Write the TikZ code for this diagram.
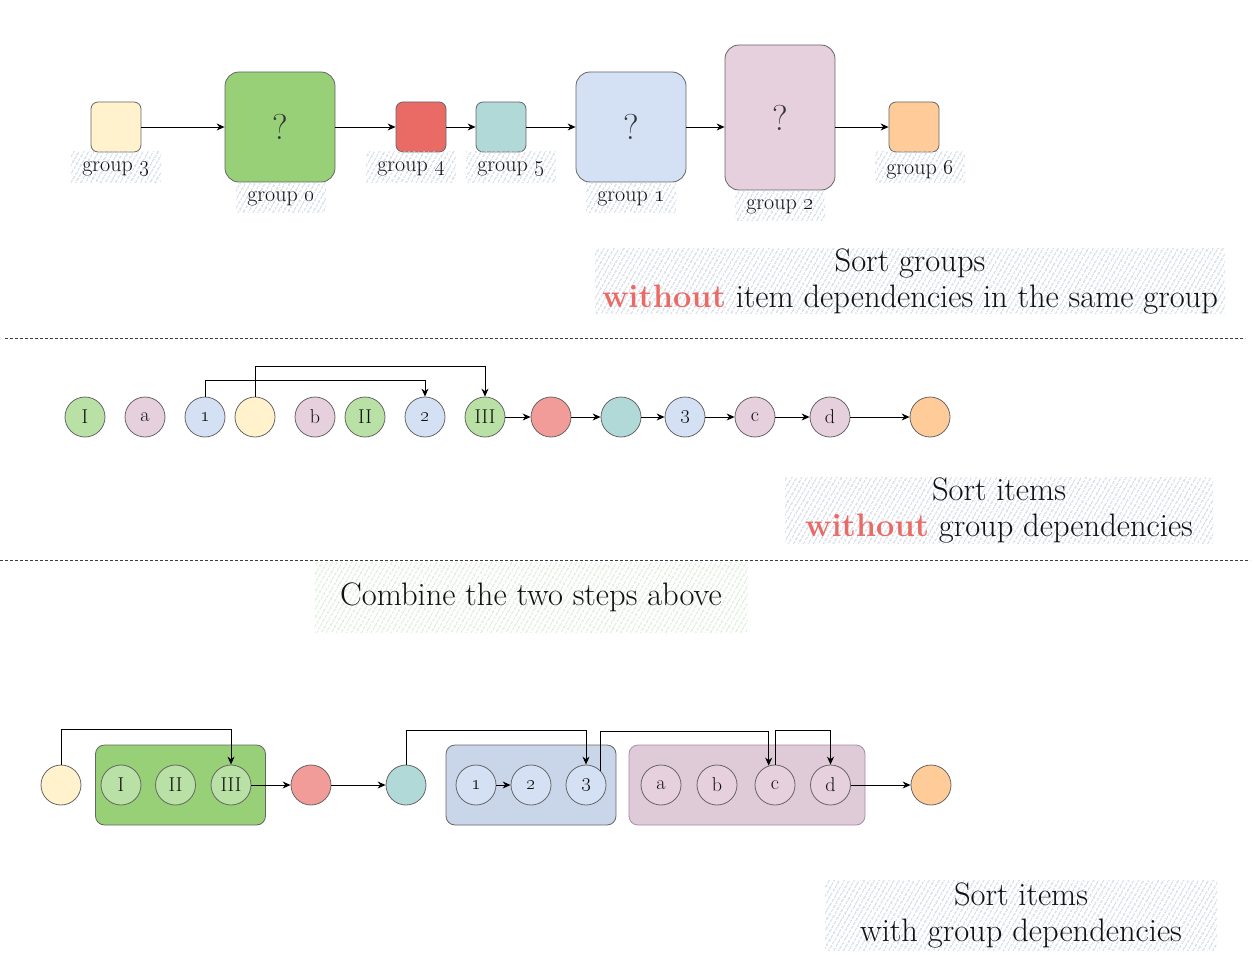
\RequirePackage{fix-cm}
\documentclass[tikz,border=0pt]{standalone}
\usepackage{tikz}
\usetikzlibrary{arrows.meta, patterns.meta, positioning, calc}

\definecolor{edge}{HTML}{666666}
\definecolor{ink}{HTML}{111111}
\definecolor{qmark}{HTML}{333333}
\definecolor{yel}{HTML}{FFF2CC}
\definecolor{grn}{HTML}{97D077}
\definecolor{lgrn}{HTML}{B9E0A5}
\definecolor{redbox}{HTML}{EA6B66}
\definecolor{lred}{HTML}{F19C99}
\definecolor{teal}{HTML}{B1D9D7}
\definecolor{blu}{HTML}{D4E1F5}
\definecolor{blulane}{HTML}{C9D6EA}
\definecolor{pur}{HTML}{E6D0DE}
\definecolor{purlane}{HTML}{DFCAD8}
\definecolor{purline}{HTML}{A68BB0}
\definecolor{org}{HTML}{FFCC99}
\definecolor{hatchblue}{HTML}{C8D3DF}
\definecolor{hatchgreen}{HTML}{D3EACD}
\definecolor{warn}{HTML}{EA6B66}
\newcommand{\depArrow}{{Stealth[length=8pt,width=7pt]}}
\newcommand{\lblfont}{\fontsize{22}{24}\selectfont}
\newcommand{\notefont}{\fontsize{32.5}{36}\selectfont}

\begin{document}
\begin{tikzpicture}[x=1pt, y=-1pt,
	grp/.style={draw=edge, line width=0.8pt, rounded corners=7pt, inner sep=0pt, text=qmark, font=\fontsize{36}{36}\selectfont},
	lane/.style={draw=edge, line width=0.8pt, rounded corners=9pt, minimum height=80pt},
	item/.style={circle, draw=edge, line width=0.8pt, minimum size=40pt, inner sep=0pt, text=ink, font=\fontsize{20}{20}\selectfont},
	hatch/.style={pattern={Lines[angle=60, distance=4pt, line width=1.1pt]}, pattern color=hatchblue, inner sep=0pt, text=ink},
	dep/.style={-\depArrow, line width=0.9pt}
]
	\useasboundingbox (0,0) rectangle (1253,971);
	
	% groups
	\coordinate (row) at (0,127);
	\node[grp, fill=yel, minimum size=50pt] (g3) at (116,127) {};
	\node[grp, fill=grn, minimum size=110pt, rounded corners=14pt] (g0) at (280,127) {?};
	\node[grp, fill=redbox, minimum size=50pt] (g4) at (421,127) {};
	\node[grp, fill=teal, minimum size=50pt] (g5) at (501,127) {};
	\node[grp, fill=blu, minimum size=110pt, rounded corners=14pt] (g1) at (631,127) {?};
	\node[grp, fill=pur, minimum width=110pt, minimum height=145pt, rounded corners=14pt] (g2) at (780,117.5) {?};
	\node[grp, fill=org, minimum size=50pt] (g6) at (914,127) {};
	
	\foreach \g/\x/\y in {3/116/167, 0/281/197, 4/411/167, 5/511/167, 1/631/197, 2/780/205, 6/920/167} {
		\node[hatch, minimum width=90pt, minimum height=30pt, text depth=0pt, font=\lblfont] (l\g) at (\x,\y) {group \oldstylenums{\g}};
	}
	
	\foreach \a/\b in {g3/g0, g0/g4, g4/g5, g5/g1, g1/g2, g2/g6} {
		\draw[dep]	(\a.east |- row) -- (\b.west |- row);
	}
	
	\node[hatch, minimum width=630pt, minimum height=62pt, align=center, font=\notefont] (note1) at (910,281)
		{Sort groups\\\textbf{\textcolor{warn}{without}} item dependencies in the same group};
	
	\draw[edge!60!black, line width=0.8pt, dash pattern=on 3pt off 2pt]	(5,338) -- (1245,338);
	
	% items
	\foreach \n/\x/\c/\t in {I/85/lgrn/I, a/145/pur/a, 1/205/blu/\oldstylenums{1}, y/255/yel/{}, b/315/pur/b, II/365/lgrn/II, 2/425/blu/\oldstylenums{2}, III/485/lgrn/III, r/551/lred/{}, t/621/teal/{}, 3/685/blu/\oldstylenums{3}, c/755/pur/c, d/830/pur/d, o/930/org/{}} {
		\node[item, fill=\c] (m\n) at (\x,417) {\t};
	}
	
	\foreach \a/\b in {III/r, r/t, t/3, 3/c, c/d, d/o} {
		\draw[dep]	(m\a) -- (m\b);
	}
	\draw[dep]	(m1.north) -- ++(0,-16) -| (m2.north);
	\draw[dep]	(my.north) -- ++(0,-30) -| (mIII.north);
	
	\node[hatch, minimum width=428pt, minimum height=65pt, align=center, font=\notefont] (note2) at (999,510.5)
		{Sort items\\\textbf{\textcolor{warn}{without}} group dependencies};
	
	\draw[edge!60!black, line width=0.8pt, dash pattern=on 3pt off 2pt]	(0,560) -- (1250,560);
	
	\node[hatch, pattern color=hatchgreen, minimum width=433pt, minimum height=70pt, font=\notefont] (note3) at (531,597)
		{Combine the two steps above};
	
	% items inside groups
	\node[lane, fill=grn, minimum width=170pt] (lane0) at (180.5,785) {};
	\node[lane, fill=blulane, minimum width=170pt] (lane1) at (531,785) {};
	\node[lane, draw=purline, fill=purlane, minimum width=236pt] (lane2) at (747,785) {};
	
	\foreach \n/\x/\c/\t in {y/61/yel/{}, I/121/lgrn/I, II/175.5/lgrn/II, III/231/lgrn/III, r/311/lred/{}, t/406/teal/{}, 1/476/blu/\oldstylenums{1}, 2/531/blu/\oldstylenums{2}, 3/586/blu/\oldstylenums{3}, a/661/pur/a, b/717/pur/b, c/775/pur/c, d/830.5/pur/d, o/931/org/{}} {
		\node[item, fill=\c] (b\n) at (\x,785) {\t};
	}
	
	\foreach \a/\b in {III/r, r/t, 1/2, d/o} {
		\draw[dep]	(b\a) -- (b\b);
	}
	\draw[dep]	(by.north) -- ++(0,-35) -| (bIII.north);
	\draw[dep]	(bt.north) -- ++(0,-34) -| (b3.north);
	\draw[dep]	(b3.45) -- (b3.45 |- 0,731) -| (bc.108);
	\draw[dep]	(bc.north) -- ++(0,-34) -| (bd.north);
	
	\node[hatch, minimum width=392pt, minimum height=70pt, align=center, font=\notefont] (note4) at (1021,915)
		{Sort items\\with group dependencies};
	
\end{tikzpicture}
\end{document}
